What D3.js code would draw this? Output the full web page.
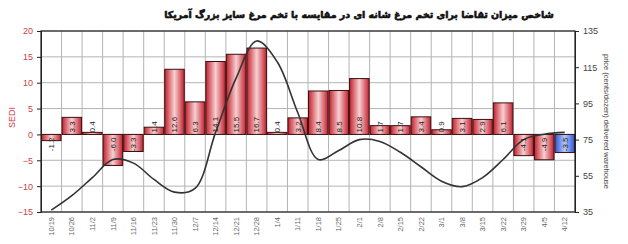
<!DOCTYPE html>
<html>
<head>
<meta charset="utf-8">
<script src="https://cdn.jsdelivr.net/npm/d3@7"></script>
<style>
	body { margin: 0; background: #fff; }
	svg { display: block; font-family: "Liberation Sans", Arial, sans-serif; }
</style>
</head>
<body>
<div id="chart"></div>
<script>
"use strict"

// weekly data
var weeks = ["10/19","10/26","11/2","11/9","11/16","11/23","11/30","12/7","12/14","12/21","12/28",
	"1/4","1/11","1/18","1/25","2/1","2/8","2/15","2/22","3/1","3/8","3/15","3/22","3/29","4/5","4/12"];
var sediValues = [-1.2, 3.3, 0.4, -6.0, -3.3, 1.4, 12.6, 6.3, 14.1, 15.5, 16.7,
	0.4, 3.2, 8.4, 8.5, 10.8, 1.7, 1.7, 3.4, 0.9, 3.1, 2.9, 6.1, -4.1, -4.9, -3.5];
var priceValues = [36, 44, 54, 64, 62, 53, 46, 48, 79, 109, 129.5,
	118, 90, 64, 69, 75, 74, 68, 60, 52, 49, 54, 64, 75, 78, 79];
var leftTicks = [-15, -10, -5, 0, 5, 10, 15, 20];
var rightTicks = [35, 55, 75, 95, 115, 135];
var titleText = "شاخص میزان تقاضا برای تخم مرغ شانه ای در مقایسه با تخم مرغ سایز بزرگ آمریکا";
var leftTitle = "SEDI";
var rightTitle = "price (cents/dozen) delivered warehouse";

function drawChart() {
	var W = 628, H = 244;
	var pLeft = 41, pRight = 575, pTop = 31, pBottom = 212;
	var redText = "#c8424c";

	var svg = d3.select("#chart").append("svg")
		.attr("width", W)
		.attr("height", H)
		;

	// gradients
	var defs = svg.append("defs");
	function addGradient(id, edge, mid) {
		var g = defs.append("linearGradient").attr("id", id)
			.attr("x1", "0%").attr("x2", "100%").attr("y1", "0%").attr("y2", "0%");
		g.append("stop").attr("offset", "0%").attr("stop-color", edge);
		g.append("stop").attr("offset", "50%").attr("stop-color", mid);
		g.append("stop").attr("offset", "100%").attr("stop-color", edge);
	}
	addGradient("gRed", "#c4212e", "#f7d0d2");
	addGradient("gBlue", "#2f56d8", "#b8c8f4");

	var x = d3.scaleBand().domain(weeks).range([pLeft, pRight]).padding(0);
	var y = d3.scaleLinear().domain([-15, 20]).range([pBottom, pTop]);
	var y2 = d3.scaleLinear().domain([35, 135]).range([pBottom, pTop]);

	// grid
	svg.append("g").selectAll("line")
		.data(leftTicks)
		.join("line")
		.attr("x1", pLeft).attr("x2", pRight)
		.attr("y1", function(d) { return y(d); })
		.attr("y2", function(d) { return y(d); })
		.attr("stroke", "#b4b4b4")
		.attr("stroke-width", 1)
		;
	svg.append("g").selectAll("line")
		.data(weeks.slice(1))
		.join("line")
		.attr("x1", function(d) { return x(d); })
		.attr("x2", function(d) { return x(d); })
		.attr("y1", pTop).attr("y2", pBottom)
		.attr("stroke", "#b4b4b4")
		.attr("stroke-width", 1)
		;

	// bars
	svg.append("g").selectAll("rect")
		.data(sediValues)
		.join("rect")
		.attr("x", function(d, i) { return x(weeks[i]) + 0.5; })
		.attr("width", x.bandwidth() - 1)
		.attr("y", function(d) { return y(Math.max(0, d)); })
		.attr("height", function(d) { return Math.abs(y(d) - y(0)); })
		.attr("fill", function(d, i) { return i == weeks.length - 1 ? "url(#gBlue)" : "url(#gRed)"; })
		.attr("stroke", "#3a1010")
		.attr("stroke-width", 1)
		;

	// price line
	var line = d3.line()
		.x(function(d, i) { return x(weeks[i]) + x.bandwidth() / 2; })
		.y(function(d) { return y2(d); })
		.curve(d3.curveCatmullRom.alpha(0.5))
		;
	svg.append("path")
		.datum(priceValues)
		.attr("d", line)
		.attr("fill", "none")
		.attr("stroke", "#333")
		.attr("stroke-width", 1.6)
		;

	// bar labels
	svg.append("g").selectAll("text")
		.data(sediValues)
		.join("text")
		.attr("transform", function(d, i) {
			var cx = x(weeks[i]) + x.bandwidth() / 2;
			var cy = d >= 0 ? y(0) - 2 : y(0) + 3;
			return "translate(" + cx + "," + cy + ") rotate(-90)";
		})
		.attr("dy", "0.35em")
		.attr("text-anchor", function(d) { return d >= 0 ? "start" : "end"; })
		.style("font-size", "8px")
		.attr("fill", "#222")
		.text(function(d) { return d.toFixed(1); })
		;

	// frame
	svg.append("rect")
		.attr("x", pLeft).attr("y", pTop)
		.attr("width", pRight - pLeft).attr("height", pBottom - pTop)
		.attr("fill", "none")
		.attr("stroke", "#222")
		.attr("stroke-width", 1.2)
		;

	// left axis
	var gL = svg.append("g")
		.attr("transform", "translate(" + pLeft + ",0)")
		.call(d3.axisLeft(y).tickValues(leftTicks).tickSize(4).tickPadding(4))
		;
	gL.select(".domain").attr("stroke", "#222");
	gL.selectAll(".tick line").attr("stroke", "#222");
	gL.selectAll(".tick text")
		.attr("fill", redText)
		.style("font-size", "9px")
		.style("font-family", "Liberation Sans, Arial, sans-serif")
		;

	// right axis
	var gR = svg.append("g")
		.attr("transform", "translate(" + pRight + ",0)")
		.call(d3.axisRight(y2).tickValues(rightTicks).tickSize(4).tickPadding(4))
		;
	gR.select(".domain").attr("stroke", "#222");
	gR.selectAll(".tick line").attr("stroke", "#222");
	gR.selectAll(".tick text")
		.attr("fill", "#444")
		.style("font-size", "9px")
		.style("font-family", "Liberation Sans, Arial, sans-serif")
		;

	// x labels
	svg.append("g").selectAll("text")
		.data(weeks)
		.join("text")
		.attr("transform", function(d) {
			return "translate(" + (x(d) + x.bandwidth() / 2) + "," + (pBottom + 5) + ") rotate(-90)";
		})
		.attr("dy", "0.35em")
		.attr("text-anchor", "end")
		.style("font-size", "7.5px")
		.attr("fill", "#666")
		.text(function(d) { return d; })
		;

	// axis titles
	svg.append("text")
		.attr("transform", "translate(12," + ((pTop + pBottom) / 2 - 4) + ") rotate(-90)")
		.attr("dy", "0.35em")
		.attr("text-anchor", "middle")
		.style("font-size", "9px")
		.attr("fill", redText)
		.text(leftTitle)
		;
	svg.append("text")
		.attr("transform", "translate(607," + ((pTop + pBottom) / 2) + ") rotate(90)")
		.attr("dy", "0.35em")
		.attr("text-anchor", "middle")
		.style("font-size", "7.5px")
		.attr("fill", "#444")
		.text(rightTitle)
		;

	// title
	var t = svg.append("text")
		.attr("x", 359)
		.attr("y", 18)
		.attr("text-anchor", "middle")
		.attr("direction", "rtl")
		.style("font-family", "DejaVu Sans, sans-serif")
		.style("font-weight", "bold")
		.style("font-size", "12px")
		.attr("fill", "#111")
		.attr("stroke", "#111")
		.attr("stroke-width", 0.6)
		.text(titleText)
		;
	var tw = t.node().getComputedTextLength();
	if (tw > 0) t.style("font-size", (12 * 390 / tw) + "px");
}

drawChart();
</script>
</body>
</html>
